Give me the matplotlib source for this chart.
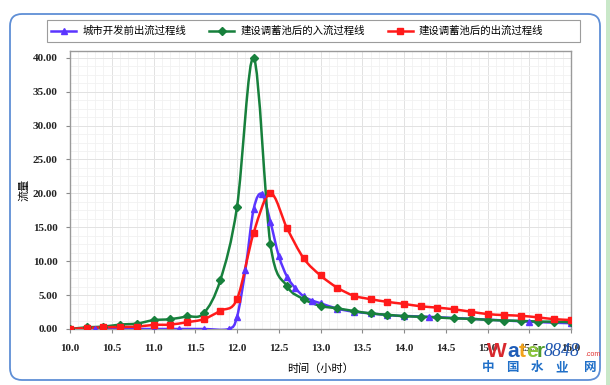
import matplotlib
matplotlib.use('Agg')
import matplotlib.pyplot as plt
from matplotlib.path import Path
from matplotlib.patches import PathPatch, FancyBboxPatch, Rectangle
from matplotlib.lines import Line2D
from matplotlib.ticker import MultipleLocator, FormatStrFormatter

plt.rcParams['font.family'] = ['Noto Sans CJK SC', 'DejaVu Sans']

""" Data read off the chart """
t_in = [10.0, 10.2, 10.4, 10.6, 10.8, 11.0, 11.2, 11.4, 11.6, 11.8, 12.0, 12.2, 12.4, 12.6, 12.8, 13.0,
        13.2, 13.4, 13.6, 13.8, 14.0, 14.2, 14.4, 14.6, 14.8, 15.0, 15.2, 15.4, 15.6, 15.8, 16.0]
q_in = [0.0, 0.25, 0.35, 0.65, 0.8, 1.3, 1.45, 1.85, 2.3, 7.2, 18.0, 40.0, 12.5, 6.3, 4.4, 3.4,
        3.05, 2.65, 2.3, 2.1, 1.9, 1.8, 1.7, 1.57, 1.5, 1.35, 1.25, 1.2, 1.1, 1.08, 1.0]
q_out = [0.0, 0.15, 0.25, 0.3, 0.35, 0.6, 0.65, 1.0, 1.45, 2.7, 4.4, 14.2, 20.0, 14.85, 10.4, 7.9,
         6.1, 4.9, 4.4, 4.0, 3.7, 3.35, 3.15, 2.9, 2.55, 2.2, 2.05, 1.95, 1.72, 1.45, 1.33]
t_pre = [10.0, 10.3, 10.6, 11.0, 11.3, 11.6, 11.9, 12.0, 12.1, 12.2, 12.3, 12.4, 12.5, 12.6, 12.7,
         12.8, 12.9, 13.0, 13.2, 13.4, 13.6, 13.8, 14.0, 14.3, 15.5, 16.0]
q_pre = [0.0, 0.0, 0.0, 0.0, 0.0, 0.0, 0.0, 1.8, 8.7, 17.7, 19.9, 15.8, 10.8, 7.7, 6.0,
         4.8, 4.2, 3.8, 3.0, 2.55, 2.3, 2.06, 1.9, 1.8, 1.08, 0.85]

labels = ['城市开发前出流过程线', '建设调蓄池后的入流过程线', '建设调蓄池后的出流过程线']
colors = ['#5b35ff', '#17803c', '#ff1a1a']
markers = ['^', 'D', 's']


def smooth_path(xs, ys):
    # catmull-rom style bezier through the points (like excel smoothed lines)
    verts = [(xs[0], ys[0])]
    codes = [Path.MOVETO]
    n = len(xs)
    for i in range(n - 1):
        x0, y0 = (xs[i - 1], ys[i - 1]) if i > 0 else (xs[i], ys[i])
        x1, y1 = xs[i], ys[i]
        x2, y2 = xs[i + 1], ys[i + 1]
        x3, y3 = (xs[i + 2], ys[i + 2]) if i + 2 < n else (x2, y2)
        verts += [(x1 + (x2 - x0) / 6, y1 + (y2 - y0) / 6),
                  (x2 - (x3 - x1) / 6, y2 - (y3 - y1) / 6),
                  (x2, y2)]
        codes += [Path.CURVE4] * 3
    return Path(verts, codes)


def px(x, y):
    return x / 610, 1 - y / 385


fig = plt.figure(figsize=(6.1, 3.85), dpi=100, facecolor='w')

# green strip on the right edge and rounded blue frame
fig.patches.append(Rectangle((606 / 610, 0), 4 / 610, 1, transform=fig.transFigure,
                             facecolor='#c9e8c9', edgecolor='none'))
fig.patches.append(FancyBboxPatch((0.10, 0.05), 5.90, 3.66, boxstyle='round,pad=0,rounding_size=0.12',
                                  transform=fig.dpi_scale_trans, facecolor='none',
                                  edgecolor='#5f8fd6', linewidth=1.3))

ax = fig.add_axes([70 / 610, 1 - 329 / 385, 501 / 610, 278 / 385])
ax.set_xlim(10, 16)
ax.set_ylim(0, 41)

series = [(t_pre, q_pre), (t_in, q_in), (t_in, q_out)]
for (xs, ys), c, m in zip(series, colors, markers):
    ax.add_patch(PathPatch(smooth_path(xs, ys), facecolor='none', edgecolor=c, lw=1.8, zorder=3))
    ax.plot(xs, ys, linestyle='none', marker=m, color=c, markersize=5 if m != 'D' else 4, zorder=4)

ax.xaxis.set_major_locator(MultipleLocator(0.5))
ax.xaxis.set_minor_locator(MultipleLocator(0.1))
ax.yaxis.set_major_locator(MultipleLocator(5))
ax.yaxis.set_minor_locator(MultipleLocator(1.25))
ax.xaxis.set_major_formatter(FormatStrFormatter('%.1f'))
ax.yaxis.set_major_formatter(FormatStrFormatter('%.2f'))
ax.grid(which='major', color='#e2e2e2', lw=0.7)
ax.grid(which='minor', color='#f1f1f1', lw=0.6)
ax.set_axisbelow(True)
for s in ax.spines.values():
    s.set_color('#9a9a9a')
    s.set_linewidth(1.0)
ax.tick_params(which='major', direction='out', length=3, color='#8a8a8a')
ax.tick_params(axis='x', pad=8)
ax.tick_params(axis='y', pad=6)
ax.tick_params(which='minor', length=0)
for lab in ax.get_xticklabels() + ax.get_yticklabels():
    lab.set_family('Liberation Serif')
    lab.set_fontweight('bold')
    lab.set_fontsize(8)
    lab.set_color('#222222')

ax.set_ylabel('流量', fontsize=8, labelpad=2)
ax.set_xlabel('时间（小时）', fontsize=8, labelpad=7)

# legend: box drawn separately so it spans the reference width
fig.patches.append(Rectangle(px(47, 42), 533 / 610, 22 / 385, transform=fig.transFigure,
                             facecolor='w', edgecolor='#9c9c9c', lw=0.8, zorder=5))
handles = [Line2D([], [], color=c, marker=m, lw=1.8, markersize=5 if m != 'D' else 4)
           for c, m in zip(colors, markers)]
leg = fig.legend(handles, labels, loc='center left', ncol=3, bbox_to_anchor=px(47, 31),
                 fontsize=7.5, frameon=False, borderaxespad=0, borderpad=0.4,
                 handlelength=2.4, handletextpad=0.6, columnspacing=2.2)
leg.set_zorder(6)

# watermark
for ch, x, c in zip('Water', [487, 507, 519, 526, 537], ['#d8282e', '#1f5db8', '#f2a31b', '#8cc43d', '#4f9e2c']):
    fig.text(*px(x, 357), ch, fontsize=15, fontweight='bold', color=c, family='Liberation Sans',
             va='baseline')
fig.text(*px(544, 356), '8848', fontsize=13, style='italic', color='#1f56b0', family='Liberation Serif',
         va='baseline')
fig.text(*px(585, 356), '.com', fontsize=5, color='#e03030', family='Liberation Sans', va='baseline')
for ch, x in zip('中国水业网', [488, 512, 537, 562, 590]):
    fig.text(*px(x, 368), ch, fontsize=9, fontweight='bold', color='#1f6fc8', ha='center', va='center')

fig.savefig('out.png', dpi=100)
